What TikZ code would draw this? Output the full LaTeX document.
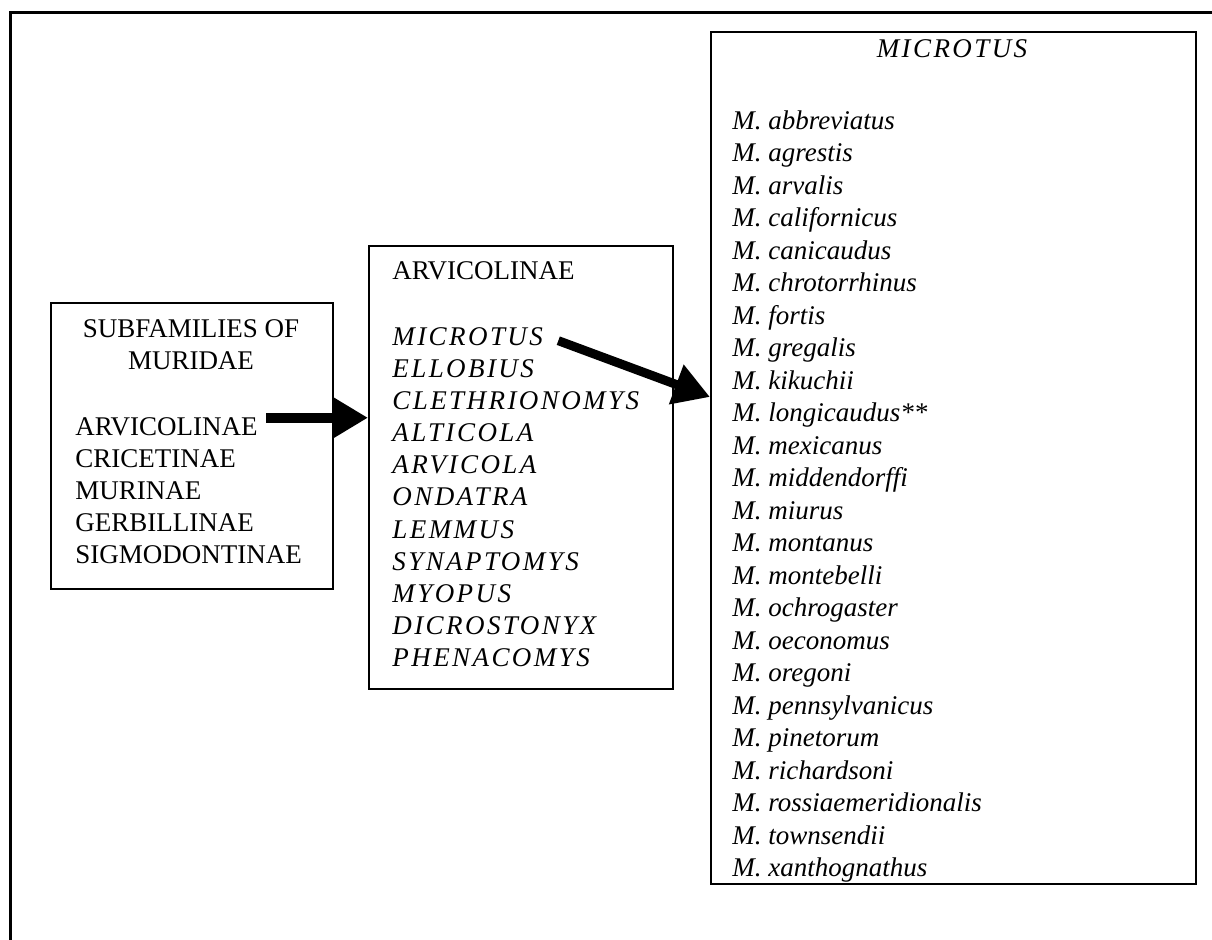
\documentclass[tikz,border=0pt]{standalone}
\usepackage{fontspec}
\setmainfont{Liberation Serif}
\newfontfamily\genusfont[LetterSpace=9]{Liberation Serif}
\usetikzlibrary{arrows.meta,positioning}

\begin{document}
\begin{tikzpicture}[x=0.5pt, y=-0.5pt,
  box/.style = {draw, line width=1pt, inner sep=0pt, anchor=north west},
  taxon/.style = {inner sep=0pt, anchor=base west, font=\fontsize{13.5}{16}\selectfont},
  genus/.style = {taxon, font=\fontsize{13.5}{16}\selectfont\genusfont\itshape},
  species/.style = {taxon, font=\fontsize{13.5}{16}\selectfont\itshape},
  fat/.style = {line width=5pt, -{Triangle[length=18pt, width=20pt]}}]
\useasboundingbox (0,0) rectangle (1212,940);
\draw[line width=1.5pt] (10,940) -- (10,13) -- (1212,13);

% the three boxes
\node[box, minimum width=141pt, minimum height=143pt] (muridae) at (50,302) {};
\node[box, minimum width=152pt, minimum height=221.5pt] (arvic) at (368,245) {};
\node[box, minimum width=242.5pt, minimum height=426pt] (microtus) at (710,31) {};

% subfamilies
\node[taxon, anchor=base] (title1) at (191,337.5) {SUBFAMILIES OF};
\node[taxon, anchor=base] (title2) at (191,369.5) {MURIDAE};
\foreach \s [count=\i] in {ARVICOLINAE,CRICETINAE,MURINAE,GERBILLINAE,SIGMODONTINAE}
  \node[taxon] (sub\i) at (75,{435.5+32*(\i-1)}) {\s};

% genera
\node[taxon] (head2) at (392,279.5) {ARVICOLINAE};
\foreach \g [count=\i] in {MICROTUS,ELLOBIUS,CLETHRIONOMYS,ALTICOLA,ARVICOLA,ONDATRA,LEMMUS,SYNAPTOMYS,MYOPUS,DICROSTONYX,PHENACOMYS}
  \node[genus] (gen\i) at (392,{345.5+32.1*(\i-1)}) {\g};

% species
\node[genus, anchor=base] (head3) at (952,57.5) {MICROTUS};
\foreach \m [count=\i] in {abbreviatus,agrestis,arvalis,californicus,canicaudus,chrotorrhinus,fortis,gregalis,kikuchii,longicaudus**,mexicanus,middendorffi,miurus,montanus,montebelli,ochrogaster,oeconomus,oregoni,pennsylvanicus,pinetorum,richardsoni,rossiaemeridionalis,townsendii,xanthognathus}
  \node[species] (sp\i) at (732,{129.5+32.5*(\i-1)}) {M. \m};

% arrows
\coordinate (tail1) at ([shift={(8,-9)}]sub1.east);
\draw[fat] (tail1) -- (tail1 -| arvic.west);
\coordinate (tail2) at ([shift={(15,4)}]gen1.east);
\path (microtus.north west) ++(0,366) coordinate (tip2);
\draw[fat, line width=4.5pt] (tail2) -- (tip2);
\end{tikzpicture}
\end{document}
